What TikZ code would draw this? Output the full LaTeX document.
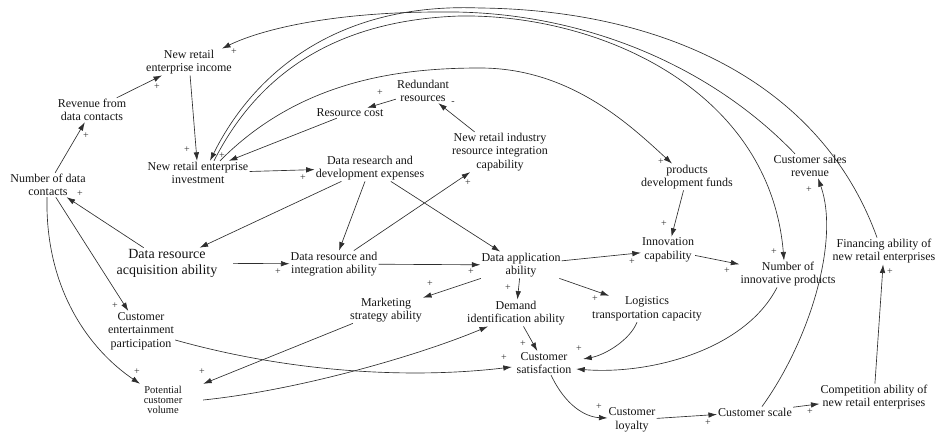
\documentclass[tikz,border=0pt]{standalone}
\usepackage{fontspec}
\setmainfont{Liberation Serif}
\usetikzlibrary{arrows.meta}
\definecolor{ln}{HTML}{2E2E2E}
\definecolor{txt}{HTML}{141414}
\begin{document}
\begin{tikzpicture}[x=1pt,y=-1pt,
  v/.style={align=center,inner sep=1pt,font=\fontsize{12}{13.5}\selectfont,text=txt},
  arr/.style={draw=ln,line width=0.65pt,-{Latex[length=8.5pt,width=5.5pt]}},
  sgn/.style={font=\fontsize{10}{10}\selectfont,text=ln,inner sep=0pt}]
\useasboundingbox (0,0) rectangle (936,435);
% nodes
\node[v] (inc) at (189,62) {New retail\\enterprise income};
\node[v] (rev) at (92,110) {Revenue from\\data contacts};
\node[v] (ndc) at (48,185) {Number of data\\contacts};
\node[v] (inv) at (198,173) {New retail enterprise\\investment};
\node[v] (rc) at (350,113) {Resource cost};
\node[v] (red) at (423,91) {Redundant\\resources};
\node[v] (nric) at (500,152) {New retail industry\\resource integration\\capability};
\node[v] (rd) at (370,168) {Data research and\\development expenses};
\node[v] (pdf) at (687,177) {products\\development funds};
\node[v] (csr) at (810,166) {Customer sales\\revenue};
\node[v,font=\fontsize{14}{16}\selectfont,minimum width=132pt] (draa) at (167,263) {Data resource\\acquisition ability};
\node[v] (dria) at (334,264) {Data resource and\\integration ability};
\node[v] (dapp) at (521,265) {Data application\\ability};
\node[v] (inn) at (668,250) {Innovation\\capability};
\node[v] (num) at (788,274) {Number of\\innovative products};
\node[v] (fin) at (884,251) {Financing ability of\\new retail enterprises};
\node[v] (mkt) at (386,310) {Marketing\\strategy ability};
\node[v] (dem) at (516,313) {Demand\\identification ability};
\node[v] (log) at (647,309) {Logistics\\transportation capacity};
\node[v] (cep) at (141,331) {Customer\\entertainment\\participation};
\node[v,minimum width=64pt] (sat) at (544,363) {Customer\\satisfaction};
\node[v,font=\fontsize{10.5}{10}\selectfont,minimum width=80pt,minimum height=32pt] (pot) at (163,400) {Potential\\customer\\volume};
\node[v] (loy) at (632,420) {Customer\\loyalty};
\node[v] (cs) at (755,412) {Customer scale};
\node[v] (comp) at (874,397) {Competition ability of\\new retail enterprises};
% straight links
\draw[arr] (rev) -- (inc) node[sgn] (s1) at (157,87) {+};
\draw[arr] (ndc) -- (rev) node[sgn] (s2) at (86,136) {+};
\draw[arr] (inc) -- (inv) node[sgn] (s3) at (187,150) {+};
\draw[arr] (rc) -- (inv) node[sgn] (s4) at (222,156) {+};
\draw[arr] (red) -- (rc) node[sgn] (s5) at (380,93) {+};
\draw[arr] (nric) -- (red) node[sgn] (s6) at (453,103) {-};
\draw[arr] (inv) -- (rd) node[sgn] (s7) at (303,178) {+};
\draw[arr] (rd) -- (draa);
\draw[arr] (rd) -- (dria);
\draw[arr] (rd) -- (dapp);
\draw[arr] (dria) -- (nric) node[sgn] (s8) at (468,183) {+};
\draw[arr] (draa) -- (ndc) node[sgn] (s9) at (80,194) {+};
\draw[arr] (draa) -- (dria) node[sgn] (s10) at (278,272) {+};
\draw[arr] (dria) -- (dapp) node[sgn] (s11) at (471,272) {+};
\draw[arr] (ndc) -- (cep) node[sgn] (s12) at (115,306) {+};
\draw[arr] (dapp) -- (mkt) node[sgn] (s13) at (430,284) {+};
\draw[arr] (dapp) -- (dem) node[sgn] (s14) at (508,288) {+};
\draw[arr] (dapp) -- (log) node[sgn] (s15) at (595,299) {+};
\draw[arr] (dapp) -- (inn) node[sgn] (s16) at (632,262) {+};
\draw[arr] (pdf) -- (inn) node[sgn] (s17) at (664,224) {+};
\draw[arr] (inn) -- (num) node[sgn] (s18) at (727,271) {+};
\draw[arr] (mkt) -- (pot) node[sgn] (s19) at (202,372) {+};
\draw[arr] (dem) -- (sat) node[sgn] (s20) at (523,344) {+};
\draw[arr] (loy) -- (cs) node[sgn] (s21) at (708,423) {+};
\draw[arr] (cs) -- (comp) node[sgn] (s22) at (810,412) {+};
\draw[arr] (comp) -- (fin) node[sgn] (s23) at (890,272) {+};
% curved links
\draw[arr] ([xshift=-1pt]ndc.south) .. controls (45,290) and (90,350) .. ([xshift=-23pt]pot.north) node[sgn] (s24) at (137,372) {+};
\draw[arr] (pot.east) .. controls (300,390) and (420,355) .. ([xshift=-28pt]dem.south);
\draw[arr] ([yshift=-9pt]cep.east) .. controls (300,375) and (420,378) .. ([yshift=-4pt]sat.west) node[sgn] (s25) at (504,358) {+};
\draw[arr] ([xshift=-10pt]log.south) .. controls (630,340) and (605,355) .. ([xshift=7pt,yshift=4pt]sat.east) node[sgn] (s26) at (579,349) {+};
\draw[arr] ([xshift=-11pt]num.south) .. controls (745,350) and (650,375) .. ([yshift=-6pt]sat.east);
\draw[arr] ([xshift=7pt]sat.south) .. controls (565,405) and (585,417) .. ([yshift=2pt]loy.west) node[sgn] (s27) at (599,407) {+};
\draw[arr] ([xshift=7pt]cs.north) .. controls (810,340) and (840,240) .. ([xshift=8pt]csr.south) node[sgn] (s28) at (809,190) {+};
% top arcs
\draw[arr] ([xshift=-15pt]csr.north) .. controls (710,65) and (580,10) .. (440,12) .. controls (330,12) and (260,30) .. ([xshift=33pt]inc.north) node[sgn] (s29) at (234,52) {+};
\draw[arr] ([xshift=-7pt]fin.north) .. controls (820,80) and (660,10) .. (480,8) .. controls (330,2) and (250,80) .. ([xshift=12pt]inv.north);
\draw[arr] ([xshift=16pt]inv.north) .. controls (260,70) and (340,20) .. (460,16) .. controls (600,14) and (770,90) .. ([xshift=-4pt]num.north) node[sgn] (s30) at (774,252) {+};
\draw[arr] ([xshift=22pt]inv.north) .. controls (300,80) and (400,68) .. (480,68) .. controls (570,68) and (630,125) .. ([xshift=-15pt]pdf.north) node[sgn] (s31) at (661,162) {+};
\end{tikzpicture}
\end{document}
